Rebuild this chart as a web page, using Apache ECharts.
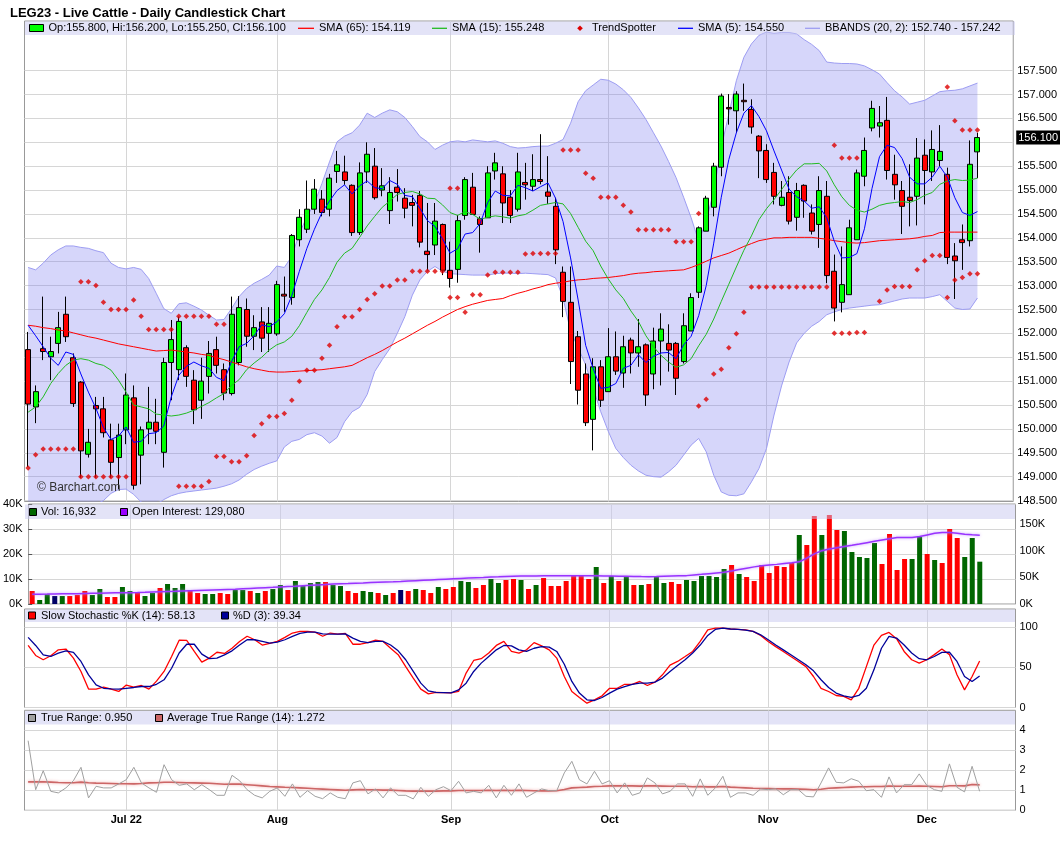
<!DOCTYPE html>
<html>
<head>
<meta charset="UTF-8">
<title>LEG23 - Live Cattle - Daily Candlestick Chart</title>
<style type="text/css">
	* { margin: 0; padding: 0; }
	html, body { width: 1060px; height: 851px; background: #fff; overflow: hidden; }
	#chart { width: 1060px; height: 851px; }
</style>
</head>
<body>
<div id="chart"></div>
<script src="https://cdn.jsdelivr.net/npm/echarts@6.0.0/dist/echarts.min.js"></script>
<script type="text/javascript">
// daily bars, 2022-06-13 .. 2022-12-12 (index 0..126)
var opens = [151.66,150.46,151.68,151.51,151.79,152.40,151.49,150.98,149.47,150.49, 150.42,149.77,149.40,149.98,150.65,149.45,150.00,150.14,149.51,151.39, 151.24,151.70,151.02,150.60,151.10,151.66,151.24,150.74,151.39,152.50, 151.94,152.24,152.00,151.99,152.82,152.75,153.96,154.18,154.60,154.81, 154.60,155.39,155.38,155.10,154.11,155.38,155.50,155.00,154.57,155.06, 154.83,154.74,154.89,153.72,153.85,154.28,153.32,153.34,154.47,155.06, 154.40,154.42,155.40,155.34,154.85,154.60,155.16,155.08,155.22,154.96, 154.66,153.28,152.65,151.93,151.15,150.20,151.30,150.78,151.51,151.17, 151.86,151.59,151.76,151.15,151.84,151.79,151.79,151.41,152.05,152.86, 154.14,154.64,155.48,156.73,156.66,156.88,156.69,156.13,155.83,155.37, 154.68,154.95,154.43,155.10,154.52,154.28,154.87,153.30,152.65,152.81, 153.96,155.29,156.30,156.34,156.46,155.33,154.99,154.85,154.87,155.73, 155.38,155.62,155.33,153.62,153.96,153.94,155.80];
var highs = [152.03,150.91,152.77,151.93,152.45,152.77,151.58,151.00,150.00,150.67, 150.67,150.11,150.11,151.16,150.91,150.05,150.88,150.63,151.49,152.28, 152.35,151.75,151.23,151.49,151.84,151.93,151.37,152.77,152.78,152.73, 152.38,152.55,152.55,153.10,153.19,154.08,154.60,155.20,155.23,155.00, 155.34,155.82,155.72,155.12,155.58,156.00,155.88,155.46,155.27,155.44, 155.04,154.90,154.98,154.73,154.73,154.30,153.92,154.48,155.27,155.36, 154.45,155.50,155.78,155.50,155.00,155.78,155.57,155.75,156.17,155.71, 154.84,153.40,153.40,152.05,151.37,151.48,151.44,152.11,152.04,151.95, 151.91,152.30,151.79,152.12,152.42,152.19,151.82,152.42,152.84,154.24, 154.88,155.57,157.02,157.01,157.07,157.23,156.90,156.15,155.96,155.57, 155.19,155.29,155.15,155.12,154.70,155.29,155.19,153.65,153.82,154.38, 155.43,156.10,156.87,156.76,156.95,155.74,155.19,155.54,156.09,156.06, 156.25,156.36,155.47,153.89,154.28,156.04,156.20];
var lows = [149.20,150.12,151.44,151.02,151.58,151.82,150.46,148.98,149.40,148.98, 149.82,148.98,148.74,149.68,148.73,148.84,149.68,149.68,149.19,150.60, 151.02,150.88,150.10,150.21,150.74,151.16,150.60,150.70,151.33,151.72, 151.65,151.61,151.61,151.95,152.45,152.60,153.82,154.10,154.50,154.45, 154.45,155.15,155.11,154.04,154.06,155.15,154.80,154.87,154.29,154.76, 154.41,154.24,153.80,153.32,153.64,153.22,152.96,153.06,154.38,154.48, 153.69,154.42,155.22,154.31,154.31,154.55,154.80,154.98,155.12,154.71, 153.45,152.34,150.94,150.51,150.06,149.55,150.46,150.78,151.13,150.86, 151.16,151.30,150.48,150.83,150.91,151.20,150.71,151.37,152.05,152.74, 154.14,154.45,155.29,156.37,156.20,156.66,156.18,155.25,155.15,154.70, 154.66,154.28,154.15,154.42,154.07,153.79,153.05,152.25,152.44,152.81, 153.96,155.08,156.23,156.10,155.22,154.80,154.08,154.24,154.26,154.70, 155.19,155.50,153.45,152.72,153.33,153.82,155.25];
var closes = [150.52,150.78,151.62,151.62,152.12,151.93,150.53,149.54,149.72,150.42, 149.92,149.30,149.87,150.71,148.82,149.98,150.14,149.95,151.39,151.87, 152.25,151.10,150.40,151.00,151.58,151.33,150.75,152.40,152.54,151.94, 152.12,151.90,152.21,153.02,152.78,154.05,154.43,154.60,155.02,154.53, 155.25,155.53,155.20,154.11,155.36,155.75,154.84,155.09,154.95,154.95, 154.62,154.68,153.91,153.65,154.35,153.32,153.15,154.36,155.22,154.49, 154.28,155.36,155.57,154.73,154.47,155.38,155.11,155.22,155.18,154.87, 153.75,152.67,151.41,150.81,150.13,151.30,150.60,151.51,151.21,151.72, 151.59,151.72,150.71,151.84,152.09,151.65,151.06,152.16,152.75,154.21, 154.83,155.50,156.97,156.70,157.01,156.85,156.32,155.82,155.22,154.87, 154.85,154.35,154.99,154.77,154.14,154.99,153.21,152.53,153.02,154.21, 155.36,155.83,156.71,156.41,155.41,155.11,154.66,154.78,155.67,155.41, 155.85,155.81,153.59,153.52,153.90,155.54,156.10];

var sma5 = [152.17,151.95,151.72,151.48,151.33,151.61,151.56,151.15,150.77,150.43, 150.03,149.78,149.85,150.04,149.72,149.74,149.90,149.92,150.06,150.67, 151.12,151.31,151.40,151.32,151.27,151.08,151.01,151.41,151.72,151.79, 151.95,152.18,152.14,152.24,152.41,152.79,153.30,153.78,154.18,154.53, 154.77,154.99,155.11,154.92,155.09,155.19,155.05,155.03,155.20,155.12, 154.89,154.86,154.62,154.36,154.24,153.98,153.68,153.77,154.08,154.11, 154.30,154.74,154.98,154.89,154.88,155.10,155.05,154.98,155.07,155.15, 154.83,154.34,153.58,152.70,151.75,151.26,150.85,150.87,150.95,151.27, 151.33,151.55,151.39,151.52,151.59,151.60,151.47,151.76,151.94,152.37, 153.00,153.89,154.85,155.64,156.20,156.61,156.77,156.54,156.24,155.82, 155.42,155.02,154.86,154.77,154.62,154.65,154.42,153.93,153.58,153.59, 153.67,154.19,155.03,155.70,155.94,155.89,155.66,155.27,155.13,155.13, 155.27,155.50,155.27,154.84,154.53,154.47,154.55];
var sma15 = [150.35,150.46,150.67,150.95,151.16,151.33,151.44,151.47,151.44,151.37, 151.33,151.23,151.02,150.77,150.50,150.46,150.42,150.31,150.29,150.27, 150.29,150.33,150.39,150.47,150.55,150.65,150.74,150.91,151.03,151.24, 151.38,151.50,151.65,151.76,151.82,151.94,152.16,152.44,152.71,152.91, 153.17,153.49,153.68,153.78,154.01,154.25,154.45,154.64,154.77,154.91, 154.95,154.97,154.92,154.83,154.82,154.69,154.53,154.47,154.55,154.49, 154.39,154.43,154.46,154.44,154.41,154.46,154.49,154.58,154.68,154.71, 154.74,154.71,154.51,154.22,153.93,153.73,153.41,153.14,152.91,152.73, 152.47,152.25,151.95,151.72,151.54,151.40,151.29,151.34,151.47,151.74, 151.98,152.30,152.67,153.03,153.39,153.74,154.04,154.38,154.61,154.80, 155.01,155.23,155.42,155.55,155.55,155.56,155.40,155.11,154.86,154.68, 154.58,154.54,154.60,154.68,154.72,154.74,154.76,154.74,154.80,154.89, 154.95,155.12,155.19,155.22,155.20,155.21,155.25];
var sma65 = [152.17,152.15,152.12,152.10,152.07,152.05,152.01,151.97,151.93,151.90, 151.86,151.82,151.78,151.75,151.72,151.69,151.66,151.63,151.64,151.65, 151.63,151.61,151.59,151.56,151.54,151.49,151.45,151.40,151.35,151.30, 151.26,151.23,151.20,151.19,151.19,151.20,151.21,151.22,151.23,151.24, 151.26,151.28,151.30,151.33,151.41,151.49,151.56,151.64,151.73,151.82, 151.90,151.99,152.08,152.17,152.25,152.34,152.42,152.50,152.56,152.61, 152.65,152.69,152.71,152.73,152.79,152.84,152.88,152.93,152.97,153.02, 153.05,153.07,153.10,153.12,153.13,153.15,153.16,153.17,153.19,153.21, 153.24,153.26,153.27,153.29,153.30,153.31,153.32,153.33,153.38,153.44, 153.51,153.58,153.63,153.68,153.75,153.82,153.88,153.94,153.97,154.00, 154.00,154.01,154.01,154.01,154.01,153.99,153.97,153.94,153.92,153.90, 153.89,153.90,153.92,153.94,153.95,153.96,153.97,153.98,154.00,154.03, 154.05,154.11,154.12,154.12,154.12,154.12,154.12];
var bbUpper = [153.38,153.33,153.47,153.64,153.75,153.83,153.83,153.80,153.78,153.73, 153.69,153.47,153.38,153.35,153.38,153.34,153.15,152.84,152.52,152.42, 152.62,152.64,152.57,152.49,152.38,152.28,152.29,152.52,152.77,152.94, 153.05,153.13,153.22,153.41,153.38,153.61,154.09,154.44,154.72,155.14, 155.59,156.01,156.13,156.20,156.36,156.61,156.52,156.61,156.68,156.64, 156.52,156.33,156.12,156.01,155.85,155.94,156.01,156.03,156.01,156.05, 156.03,156.01,156.03,155.98,155.91,155.88,155.89,155.91,155.92,155.92, 155.98,156.06,156.40,156.85,157.08,157.20,157.32,157.30,157.22,157.10, 156.94,156.72,156.48,156.20,155.92,155.60,155.26,154.85,154.42,153.93, 154.35,154.98,155.89,156.59,157.29,157.78,158.06,158.24,158.31,158.28, 158.30,158.30,158.27,158.15,158.05,157.92,157.68,157.66,157.65,157.65, 157.64,157.60,157.52,157.43,157.25,157.08,156.95,156.80,156.84,156.88, 156.97,157.06,157.08,157.09,157.12,157.18,157.24];
var bbLower = [148.20,148.15,148.10,148.10,148.10,148.15,148.20,148.28,148.35,148.42, 148.50,148.65,148.73,148.74,148.63,148.47,148.38,148.42,148.52,148.60, 148.65,148.68,148.70,148.72,148.74,148.76,148.80,148.85,148.93,149.05, 149.15,149.22,149.28,149.33,149.62,149.74,149.78,149.88,149.92,149.85, 149.70,149.82,150.15,150.36,150.45,150.72,151.20,151.45,151.68,152.00, 152.35,152.80,153.12,153.30,153.40,153.30,153.25,153.24,153.23,153.22, 153.22,153.22,153.25,153.26,153.26,153.25,153.26,153.25,153.24,153.23, 153.16,152.74,152.04,151.70,151.34,150.85,150.36,149.95,149.59,149.40, 149.24,149.12,149.03,149.00,148.99,149.10,149.24,149.45,149.66,149.80, 149.52,149.03,148.68,148.61,148.60,148.64,148.89,149.17,149.59,150.29, 150.90,151.40,151.80,152.00,152.15,152.25,152.39,152.45,152.50,152.53, 152.55,152.57,152.59,152.60,152.64,152.68,152.72,152.74,152.74,152.74, 152.77,152.81,152.67,152.53,152.50,152.51,152.74];
// TrendSpotter markers: [bar index, price]
var trendDots = [[0,149.18],[1,149.46],[2,149.58],[3,149.58],[4,149.58],[5,149.58],[6,149.58],
	[7,153.08],[8,153.08],[9,153.00],[10,152.65],[11,152.50],[12,152.50],[13,152.50],[14,152.70],[15,152.36],
	[16,152.08],[17,152.08],[18,152.08],[19,152.08],[20,152.36],[21,152.36],[22,152.36],[23,152.36],[24,152.36],[25,152.19],[26,152.19],
	[7,149.00],[8,149.00],[9,149.00],[10,149.00],[11,149.00],[12,149.00],[13,149.00],
	[20,148.80],[21,148.80],[22,148.80],[23,148.80],[24,148.90],[25,149.42],[26,149.42],[27,149.31],[28,149.31],[29,149.44],
	[30,149.86],[31,150.11],[32,150.26],[33,150.26],[34,150.32],[35,150.60],[36,151.00],[37,151.23],[38,151.23],[39,151.48],
	[40,151.75],[41,152.14],[42,152.35],[43,152.35],[44,152.50],[45,152.71],[46,152.83],[47,152.99],[48,152.99],[49,153.12],
	[50,153.12],[51,153.30],[52,153.30],[53,153.30],[54,153.30],[55,153.30],
	[56,155.04],[57,155.04],[56,152.75],[57,152.75],[58,152.44],[59,152.81],[60,152.81],[61,153.22],[62,153.28],[63,153.28],
	[64,153.28],[65,153.28],[66,153.66],[67,153.67],[68,153.67],[69,153.67],[70,153.67],
	[71,155.84],[72,155.84],[73,155.84],[74,155.35],[75,155.25],[76,154.85],[77,154.85],[78,154.85],[79,154.68],[80,154.54],
	[81,154.17],[82,154.17],[83,154.17],[84,154.17],[85,154.17],[86,153.92],[87,153.92],[88,153.92],[89,154.51],
	[89,150.48],[90,150.62],[91,151.15],[92,151.25],[93,151.70],[94,151.99],[95,152.44],
	[96,152.97],[97,152.97],[98,152.97],[99,152.97],[100,152.97],[101,152.97],[102,152.97],[103,152.97],[104,152.97],[105,152.97],[106,152.97],
	[107,155.94],[108,155.67],[109,155.67],[110,155.67],
	[107,152.00],[108,152.00],[109,152.00],[110,152.02],[111,152.02],
	[113,152.67],[114,152.91],[115,152.98],[116,152.98],[117,152.98],[118,153.33],[119,153.52],[120,153.63],[121,153.63],
	[122,157.16],[123,156.45],[124,156.26],[125,156.26],[126,156.26],
	[122,152.75],[123,153.12],[124,153.17],[125,153.25],[126,153.25]];

// volume and open interest, thousands of contracts
var volumes = [5.2,1.6,3.9,3.2,3.2,3.2,3.6,5.2,3.6,6.0, 2.8,2.8,6.8,5.2,4.7,3.2,4.4,6.4,8.0,6.4, 8.0,5.6,4.4,4.0,4.0,4.4,4.0,5.6,5.6,5.2, 4.4,5.2,6.0,7.6,5.6,9.2,7.2,8.4,8.8,8.8, 7.6,7.2,5.2,4.4,5.2,4.8,4.4,3.6,4.4,5.6, 5.2,6.0,5.6,4.4,6.8,6.0,6.8,9.2,8.8,6.4, 7.6,10.0,8.4,9.6,10.0,9.6,6.0,7.6,10.4,7.2, 7.2,9.2,11.6,11.6,10.0,14.8,8.4,11.2,9.2,10.8, 7.6,7.6,8.0,11.2,8.4,8.8,8.0,9.6,9.2,11.2, 11.2,10.8,14.0,15.6,12.0,10.8,9.2,15.6,12.4,15.2, 14.8,16.4,27.6,23.6,35.2,27.6,35.6,29.6,29.2,20.8, 18.8,18.4,24.4,16.0,28.0,13.6,18.0,18.0,26.8,20.0, 17.6,16.4,30.0,26.4,18.8,26.4,16.93];
var openInterest = [18.4,18.5,18.6,18.8,19.0,19.2,19.4,19.7,20.0,20.3, 20.6,20.9,21.1,21.3,21.5,21.9,22.4,22.9,23.4,23.8, 24.3,24.8,25.3,25.8,26.3,26.8,27.3,27.8,28.5,29.2, 29.9,30.6,31.3,32.1,32.8,33.5,34.3,35.0,35.8,36.5, 37.3,37.9,38.4,39.0,39.5,40.1,40.7,41.3,41.8,42.4, 43.1,43.8,44.5,45.2,45.9,46.6,47.3,48.0,48.7,49.3, 49.8,50.4,50.9,51.5,52.0,52.5,52.6,52.7,52.8,52.9, 53.0,53.1,53.2,53.2,53.0,52.8,52.6,52.4,52.2,51.9, 51.6,51.4,51.3,51.6,52.0,52.4,52.8,53.2,54.4,55.6, 56.9,58.2,59.5,62.0,64.6,67.2,69.6,71.5,72.9,74.3, 75.8,77.2,79.0,86.0,94.0,100.0,103.0,105.5,107.8,110.0, 112.4,115.0,117.5,120.0,122.5,124.5,124.7,124.7,126.5,129.5, 132.5,134.0,134.0,132.8,131.0,130.0,129.08];

var stochK = [77.5,65,59.6,64.6,72,73,61.7,45,23,23, 25.4,23,20,28,25.4,27.5,23,33,45,63.7, 84,83.7,70,56.7,61.7,69,67.5,74,82.5,89, 84.6,78,80,82.5,87.5,93,95,95,94,89, 93,91.7,92.5,79,79,81,84,82.5,74,66, 51,36.7,23,17,19,18.7,18.3,20,43,58.7, 61,68,77.5,82.5,70,68,72,81,77,72, 61.7,38.7,20,12.5,5.4,9.6,14.6,24,24,29, 29,32.5,27.5,31.7,40.8,53,57.5,63.7,70,82.5, 97,99,99,98,97.5,97,95,90,82.5,76, 70,63.7,57.5,51,38.7,24,20,15,14,9.6, 24,51,78,90,93.7,86,70,59.6,55.4,59.6, 66,73,66,40.8,22,38.7,58.13];
var stochD = [87.5,77.5,65.8,63.7,68,70.8,68.8,57.5,40.8,28.3, 24,23.3,23,24,25,26.2,26.2,29,34.6,49, 68,79,79,66.7,61,61.7,65.8,70.8,78,84.6, 84.6,82.5,80.4,81.7,84.6,88.8,92.5,94,94,92, 91.7,91.7,92,86.7,82.5,81,82.5,82.5,78,70.8, 59.6,45,30.4,20.8,19,18.7,18.3,22,30.4,45, 55.4,63.7,72,77.5,77,72,70,74,76,75.4, 70,54,32.5,18,9.6,8.75,12.5,18,23,26.2, 29,30.4,30.4,31.7,36.7,45,52.5,59.6,68,78, 90,97.5,99,98,97.5,96.7,95,90.8,84.6,78, 72,65.8,59.6,53.3,45.8,34.6,25,18,14.6,12.5, 15,24,47,74,88.8,86.7,78,68,61,59.6, 63.7,68.8,69,57.5,38.7,32.5,39.34];

var trueRange = [3.48,1.03,1.98,0.95,0.87,1.12,1.48,2.15,0.62,1.2, 1.12,1.12,1.32,1.53,2.15,1.37,1.12,0.9,2.28,1.53, 1.25,1.32,1.03,1.28,1.03,0.75,0.75,1.75,1.48,1.03, 0.75,0.62,0.95,1.12,0.7,1.32,0.65,0.98,0.7,0.58, 0.87,0.65,0.58,1.37,1.48,0.82,1.07,0.62,1.12,0.75, 0.75,0.57,1.15,0.7,1.03,1.18,0.98,1.45,0.87,0.95, 0.87,1.25,0.62,1.25,0.75,1.32,0.65,0.87,1.07,0.98, 0.98,1.87,2.45,1.53,1.32,1.95,1.32,1.48,0.87,1.37, 0.75,0.87,1.62,1.37,0.82,0.95,1.32,1.32,0.7,1.57, 0.75,1.12,1.7,0.65,0.87,0.87,0.75,1.07,1.03,1.08, 0.78,1.03,1.03,0.7,0.67,1.37,2.12,1.4,1.37,1.58, 1.45,0.98,1.03,0.65,1.67,0.87,1.28,1.28,1.82,1.25, 1.03,0.95,2.32,1.15,0.92,2.2,0.95];
var atr14 = [1.42,1.42,1.43,1.41,1.39,1.38,1.38,1.41,1.38,1.36, 1.35,1.34,1.33,1.33,1.32,1.34,1.37,1.38,1.40,1.40, 1.39,1.38,1.37,1.36,1.35,1.33,1.30,1.31,1.31,1.28, 1.25,1.22,1.19,1.17,1.15,1.14,1.12,1.10,1.08,1.06, 1.04,1.02,1.00,1.02,1.04,1.03,1.03,1.01,1.01,0.99, 0.97,0.96,0.96,0.96,0.96,0.97,0.97,0.99,0.99,0.99, 0.99,1.00,0.99,1.00,0.99,1.00,0.99,0.98,0.97,0.97, 0.98,1.04,1.12,1.14,1.16,1.19,1.20,1.22,1.22,1.23, 1.22,1.21,1.22,1.22,1.21,1.20,1.20,1.20,1.18,1.19, 1.17,1.17,1.19,1.16,1.14,1.12,1.10,1.09,1.09,1.08, 1.07,1.07,1.06,1.05,1.03,1.05,1.10,1.12,1.14,1.16, 1.18,1.18,1.19,1.19,1.21,1.20,1.20,1.20,1.21,1.20, 1.19,1.18,1.23,1.23,1.22,1.29,1.27];

// axes
var monthIdx = [13, 33, 56, 77, 98, 119];
var monthLabels = ['Jul 22', 'Aug', 'Sep', 'Oct', 'Nov', 'Dec'];
var priceTicks = [148.5,149,149.5,150,150.5,151,151.5,152,152.5,153,153.5,154,154.5,155,155.5,156,156.5,157,157.5];
var priceLabels = [148.5,149,149.5,150,150.5,151,151.5,152,152.5,153,153.5,154,154.5,155,155.5,156.5,157,157.5];
var volTicks = [0, 10, 20, 30, 40];
var oiTicks = [0, 50, 100, 150];
var stochTicks = [0, 50, 100];
var trTicks = [0, 1, 2, 3, 4];

var FONT = '"Liberation Sans", Arial, sans-serif';
var L = 24.5, R = 44.5;
var chart = echarts.init(document.getElementById('chart'));

function pairs(arr) {
	return arr.map(function(v, i) { return [i, v]; });
}

function xAxisFor(gi, withLabels) {
	return {
		type: 'value', gridIndex: gi, min: -0.48, max: 130.75,
		axisLine: { show: false },
		axisTick: { show: false, customValues: monthIdx },
		axisLabel: {
			show: withLabels, customValues: monthIdx, margin: 4,
			fontFamily: FONT, fontSize: 11, fontWeight: 'bold', color: '#000',
			formatter: function(v) { return monthLabels[monthIdx.indexOf(v)]; }
		},
		splitLine: { show: true, lineStyle: { color: '#d6d6d6', width: 1 } }
	};
}

function yAxisFor(gi, pos, min, max, ticks, labels, fmt, split) {
	return {
		type: 'value', gridIndex: gi, position: pos, min: min, max: max,
		axisLine: { show: false },
		axisTick: { show: pos === 'left', length: 4, customValues: ticks, lineStyle: { color: '#555' } },
		axisLabel: { customValues: labels, margin: pos === 'left' ? 6 : 4, fontFamily: FONT, fontSize: 11, color: '#000', formatter: fmt },
		splitLine: { show: split, lineStyle: { color: '#d6d6d6', width: 1 } }
	};
}

var candleData = opens.map(function(o, i) { return [i, o, closes[i], lows[i], highs[i]]; });

var volData = volumes.map(function(v, i) {
	var c = '#ff0000';
	if (i > 0 && closes[i] > closes[i - 1]) c = '#006600';
	else if (i > 0 && closes[i] === closes[i - 1]) c = '#000066';
	return { value: [i, v], itemStyle: { color: c } };
});

// legend strips and captions
function strip(y, h) {
	return { type: 'rect', silent: true, z: 100, shape: { x: L + 0.5, y: y, width: 990, height: h }, style: { fill: 'rgba(200,200,240,0.5)' } };
}
function txt(x, y, s) {
	return { type: 'text', silent: true, z: 101, x: x, y: y, style: { text: s, font: '11px ' + FONT, fill: '#000', verticalAlign: 'middle' } };
}
function box(x, y, w, h, fill) {
	return { type: 'rect', silent: true, z: 101, shape: { x: x, y: y, width: w, height: h }, style: { fill: fill, stroke: '#000', lineWidth: 1 } };
}
function seg(x1, x2, y, color) {
	return { type: 'line', silent: true, z: 101, shape: { x1: x1, y1: y, x2: x2, y2: y }, style: { stroke: color, lineWidth: 1.3 } };
}

var graphics = [
	strip(21.5, 13.5),
	box(29.5, 24.5, 14, 7, '#00ff00'),
	txt(48.5, 28.3, 'Op:155.800, Hi:156.200, Lo:155.250, Cl:156.100'),
	seg(298, 314, 28.3, '#ff0000'), txt(319, 28.3, 'SMA (65): 154.119'),
	seg(432, 447, 28.3, '#22bb22'), txt(452, 28.3, 'SMA (15): 155.248'),
	{ type: 'polygon', silent: true, z: 101, shape: { points: [[580, 25.5], [582.8, 28.3], [580, 31.1], [577.2, 28.3]] }, style: { fill: '#dd0000' } },
	txt(592, 28.3, 'TrendSpotter'),
	seg(678, 693, 28.3, '#0000ff'), txt(698, 28.3, 'SMA (5): 154.550'),
	seg(805, 820, 28.3, '#9d9df2'), txt(825, 28.3, 'BBANDS (20, 2): 152.740 - 157.242'),

	strip(504.5, 14.5),
	box(29.5, 508.5, 7, 7, '#006600'), txt(41, 512, 'Vol: 16,932'),
	box(120.5, 508.5, 7, 7, '#9900ff'), txt(132, 512, 'Open Interest: 129,080'),

	strip(609.5, 12.5),
	box(28.5, 612, 7, 7, '#ff0000'), txt(41, 615.5, 'Slow Stochastic %K (14): 58.13'),
	box(221.5, 612, 7, 7, '#000099'), txt(233, 615.5, '%D (3): 39.34'),

	strip(711, 13.5),
	box(28.5, 714.5, 7, 7, '#a0a0a0'), txt(41, 718, 'True Range: 0.950'),
	box(155.5, 714.5, 7, 7, '#cc6666'), txt(167, 718, 'Average True Range (14): 1.272'),

	{ type: 'text', silent: true, z: 101, x: 37, y: 488, style: { text: '\u00a9 Barchart.com', font: '12px ' + FONT, fill: '#333', verticalAlign: 'middle' } }
];

var gridBase = { left: L, right: R, show: true, borderColor: '#999', borderWidth: 1, backgroundColor: '#fff' };

var option = {
	animation: false,
	backgroundColor: '#fff',
	textStyle: { fontFamily: FONT },
	title: {
		text: 'LEG23 - Live Cattle - Daily Candlestick Chart',
		left: 5, top: 2,
		textStyle: { fontFamily: FONT, fontSize: 13, fontWeight: 'bold', color: '#000' }
	},
	grid: [
		Object.assign({ top: 21, height: 480.5 }, gridBase),
		Object.assign({ top: 504, height: 100 }, gridBase),
		Object.assign({ top: 609, height: 98.5 }, gridBase),
		Object.assign({ top: 710.3, height: 100 }, gridBase)
	],
	xAxis: [xAxisFor(0, false), xAxisFor(1, false), xAxisFor(2, false), xAxisFor(3, true)],
	yAxis: [
		yAxisFor(0, 'right', 148.48, 158.54, priceTicks, priceLabels, function(v) { return v.toFixed(3); }, true),
		yAxisFor(1, 'left', 0, 40, volTicks, volTicks, function(v) { return v + 'K'; }, true),
		yAxisFor(1, 'right', 0, 187.5, oiTicks, oiTicks, function(v) { return v + 'K'; }, false),
		yAxisFor(2, 'right', 0, 123, stochTicks, stochTicks, function(v) { return String(v); }, true),
		yAxisFor(3, 'right', 0, 5, trTicks, trTicks, function(v) { return String(v); }, true)
	],
	graphic: { elements: graphics },
	series: [
		{
			name: 'BBANDS band', type: 'custom', xAxisIndex: 0, yAxisIndex: 0, z: 1, silent: true,
			data: [[0, bbUpper[0]]],
			renderItem: function(params, api) {
				var cs = params.coordSys, pts = [], i;
				for (i = 0; i < bbUpper.length; i++) pts.push(api.coord([i, bbUpper[i]]));
				for (i = bbLower.length - 1; i >= 0; i--) pts.push(api.coord([i, bbLower[i]]));
				pts = pts.map(function(p) {
					return [Math.max(cs.x, Math.min(cs.x + cs.width, p[0])), Math.max(cs.y, Math.min(cs.y + cs.height, p[1]))];
				});
				return { type: 'polygon', shape: { points: pts }, style: { fill: 'rgba(120,120,240,0.3)' } };
			}
		},
		{ name: 'BB upper', type: 'line', xAxisIndex: 0, yAxisIndex: 0, z: 2, symbol: 'none', silent: true, data: pairs(bbUpper), lineStyle: { color: '#9d9df2', width: 1 } },
		{ name: 'BB lower', type: 'line', xAxisIndex: 0, yAxisIndex: 0, z: 2, symbol: 'none', silent: true, data: pairs(bbLower), lineStyle: { color: '#9d9df2', width: 1 } },
		{
			name: 'LEG23', type: 'candlestick', xAxisIndex: 0, yAxisIndex: 0, z: 3, barWidth: 5.5,
			data: candleData,
			itemStyle: { color: '#00ff00', color0: '#ff0000', borderColor: '#000', borderColor0: '#000', borderWidth: 1 },
			markLine: {
				silent: true, symbol: 'none', animation: false,
				lineStyle: { color: 'rgba(0,0,0,0)', width: 0 },
				label: {
					show: true, position: 'end', distance: 3, opacity: 1, color: '#fff', backgroundColor: '#000',
					padding: [2, 2, 1, 2], fontFamily: FONT, fontSize: 11,
					formatter: function() { return closes[closes.length - 1].toFixed(3); }
				},
				data: [{ yAxis: closes[closes.length - 1] }]
			}
		},
		{ name: 'SMA (65)', type: 'line', xAxisIndex: 0, yAxisIndex: 0, z: 4, symbol: 'none', data: pairs(sma65), lineStyle: { color: '#ff0000', width: 1 } },
		{ name: 'SMA (15)', type: 'line', xAxisIndex: 0, yAxisIndex: 0, z: 4, symbol: 'none', data: pairs(sma15), lineStyle: { color: '#22bb22', width: 1 } },
		{ name: 'SMA (5)', type: 'line', xAxisIndex: 0, yAxisIndex: 0, z: 4, symbol: 'none', data: pairs(sma5), lineStyle: { color: '#0000ff', width: 1 } },
		{ name: 'TrendSpotter', type: 'scatter', xAxisIndex: 0, yAxisIndex: 0, z: 5, symbol: 'diamond', symbolSize: 5.5, data: trendDots, itemStyle: { color: '#dd0000' } },

		{ name: 'Vol', type: 'bar', xAxisIndex: 1, yAxisIndex: 1, z: 3, barWidth: 5, data: volData },
		{ name: 'Open Interest', type: 'line', xAxisIndex: 1, yAxisIndex: 2, z: 4, symbol: 'none', data: pairs(openInterest), lineStyle: { color: '#9933ff', width: 1.5, shadowColor: 'rgba(190,140,255,0.9)', shadowBlur: 3 } },

		{ name: '%K', type: 'line', xAxisIndex: 2, yAxisIndex: 3, z: 4, symbol: 'none', data: pairs(stochK), lineStyle: { color: '#ff0000', width: 1.3 } },
		{ name: '%D', type: 'line', xAxisIndex: 2, yAxisIndex: 3, z: 4, symbol: 'none', data: pairs(stochD), lineStyle: { color: '#000099', width: 1.3 } },

		{ name: 'Average True Range (14)', type: 'line', xAxisIndex: 3, yAxisIndex: 4, z: 3, symbol: 'none', data: pairs(atr14), lineStyle: { color: '#cc6666', width: 1.6, shadowColor: 'rgba(240,160,160,0.9)', shadowBlur: 3 } },
		{ name: 'True Range', type: 'line', xAxisIndex: 3, yAxisIndex: 4, z: 4, symbol: 'none', data: pairs(trueRange), lineStyle: { color: '#a0a0a0', width: 1 } }
	]
};

chart.setOption(option);
</script>
</body>
</html>
